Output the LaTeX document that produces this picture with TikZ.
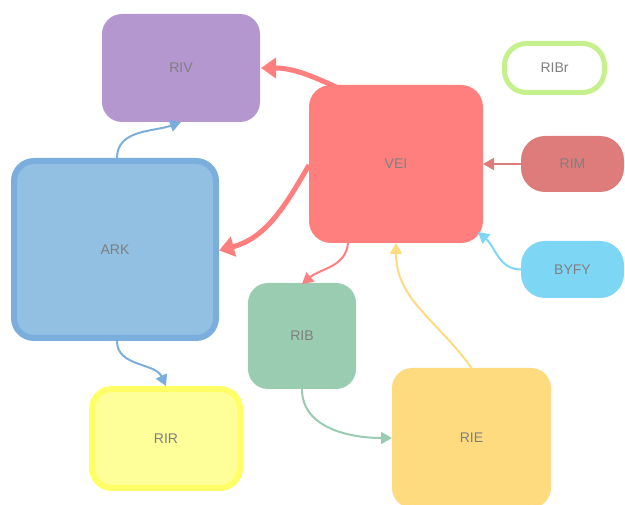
\documentclass[tikz,border=0pt]{standalone}
\usepackage{fontspec}
\setmainfont{Liberation Sans}
\usetikzlibrary{arrows.meta,calc}

\definecolor{cPurple}{HTML}{B497CF}
\definecolor{cRed}{HTML}{FF7F7F}
\definecolor{cDark}{HTML}{DE7C7C}
\definecolor{cSky}{HTML}{7ED6F5}
\definecolor{cBlue}{HTML}{91C0E2}
\definecolor{cBlueLine}{HTML}{7BAEDC}
\definecolor{cGreen}{HTML}{99CCB1}
\definecolor{cYellow}{HTML}{FFFF99}
\definecolor{cYellowLine}{HTML}{FFFF66}
\definecolor{cOrange}{HTML}{FFDB7F}
\definecolor{cLime}{HTML}{C5F08C}
\definecolor{cText}{HTML}{7F7F7F}

\tikzset{
  box/.style={rounded corners=#1, inner sep=0pt, outer sep=0pt,
    font=\fontsize{14}{16}\selectfont, text=cText},
  box/.default=20pt,
  link/.style={line width=2pt, -{Triangle[width=12pt,length=11pt]}},
  biglink/.style={line width=5pt, -{Triangle[width=20pt,length=15pt]}}
}

\begin{document}
\begin{tikzpicture}[x=1pt,y=-1pt]
\useasboundingbox (0,0) rectangle (625,505);

% boxes
\node[box, fill=cPurple, minimum width=158pt, minimum height=108pt] (riv) at (181,68) {RIV};
\node[box=22pt, fill=cRed, minimum width=174pt, minimum height=158pt] (vei) at (396,164) {VEI};
\node[box=22pt, fill=white, draw=cLime, line width=5pt, minimum width=100pt, minimum height=49pt] (ribr) at (554.5,68) {RIBr};
\node[box=24pt, fill=cDark, minimum width=103pt, minimum height=56pt] (rim) at (572.5,164) {RIM};
\node[box=24pt, fill=cSky, minimum width=103pt, minimum height=57pt] (byfy) at (572.5,269.5) {BYFY};
\node[box, fill=cBlue, draw=cBlueLine, line width=6pt, minimum width=202pt, minimum height=177pt] (ark) at (115,249.5) {ARK};
\node[box, fill=cGreen, minimum width=108pt, minimum height=106pt] (rib) at (302,336) {RIB};
\node[box, fill=cYellow, draw=cYellowLine, line width=6pt, minimum width=148pt, minimum height=99pt] (rir) at (166,438.5) {RIR};
\node[box, fill=cOrange, minimum width=159pt, minimum height=140pt] (rie) at (471.5,438) {RIE};

% connectors
\draw[biglink, color=cRed] ($(vei.north west)+(27,2)$) to[out=155,in=0] ($(riv.east)+(1,0)$);
\draw[biglink, color=cRed] ($(vei.west)+(0,1)$) to[out=240,in=15] ($(ark.east)+(3,1)$);
\draw[link, color=cRed] ($(vei.south)+(-48,0)$) to[out=-95,in=40] ($(rib.north)+(0,1)$);
\draw[link, color=cDark] (rim.west) -- (vei.east);
\draw[link, color=cSky] (byfy.west) to[out=180,in=-40] ($(vei.south east)+(-5,-11)$);
\draw[link, color=cOrange] (rie.north) to[out=125,in=-90] (vei.south);
\draw[link, color=cBlueLine] ($(ark.north)+(2,-3)$) to[out=90,in=200] (riv.south);
\draw[link, color=cBlueLine] ($(ark.south)+(2,3)$) to[out=-90,in=115] ($(rir.north)+(0,-3)$);
\draw[link, color=cGreen] (rib.south) to[out=-90,in=180] (rie.west);
\end{tikzpicture}
\end{document}
